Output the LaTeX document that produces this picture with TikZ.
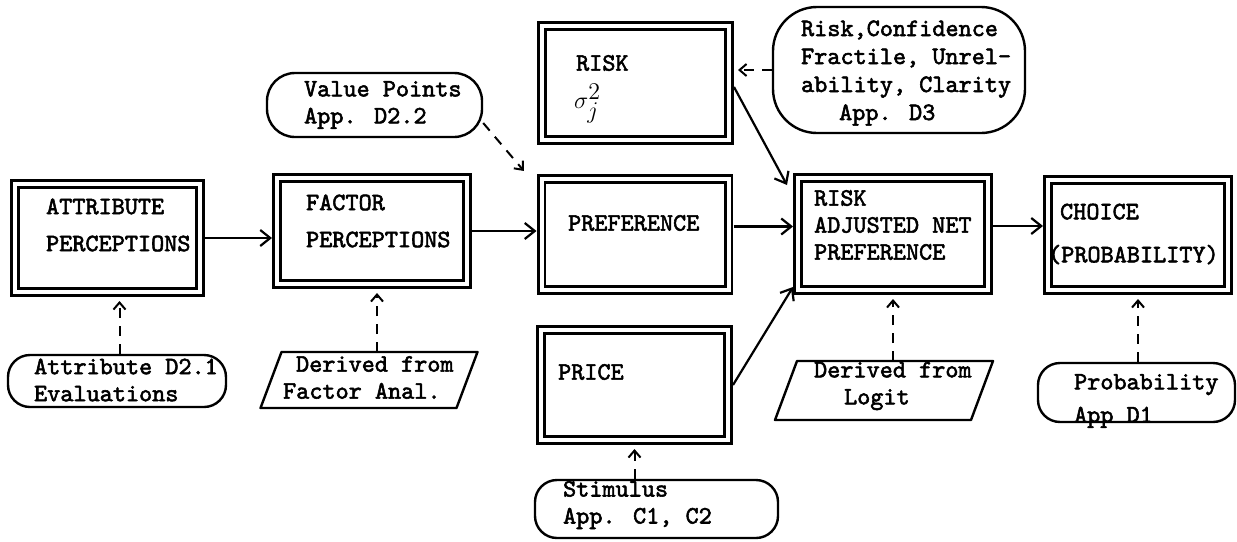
\documentclass[tikz,border=0pt]{standalone}
\usepackage{fontspec}
\newfontfamily\typer[FakeBold=2.2]{lmmono10-regular.otf}
\usetikzlibrary{arrows.meta,calc}

\begin{document}
\begin{tikzpicture}[x=0.5pt,y=-0.5pt,line width=1.1pt,
  >={Straight Barb[length=5pt,width=8pt]},
  stage/.style={draw,double,double distance=2pt,line width=1.3pt,inner sep=0pt,outer sep=2.5pt,minimum width=93.5pt,minimum height=55pt},
  source/.style={draw,rounded corners=11pt,line width=1.2pt,inner sep=0pt},
  derived/.style={inner sep=0pt,outer sep=0pt,minimum width=98pt,minimum height=28pt},
  frame/.style={line width=1.2pt,line join=round},
  txt/.style={font=\typer\fontsize{12.5pt}{13.5pt}\selectfont,align=left,inner sep=0pt,anchor=west},
  feed/.style={->,dash pattern=on 5pt off 4pt,line width=1pt,shorten >=2pt,>={Straight Barb[length=3.5pt,width=6pt]}}]
\useasboundingbox (0,0) rectangle (1237,541);

% model stages
\node[stage,minimum width=92.5pt,minimum height=54pt] (attr) at (107.5,238) {};
\node[stage,minimum width=95pt,minimum height=53pt] (factor) at (372,231) {};
\node[stage,minimum height=55.5pt] (pref) at (635,234.5) {};
\node[stage,minimum height=57pt] (risk) at (635.5,83) {};
\node[stage] (price) at (634.5,385) {};
\node[stage,minimum width=95pt,minimum height=56pt] (radj) at (893,234) {};
\node[stage,minimum width=90pt] (choice) at (1138,235) {};

\node[txt] (attr-t) at (45,225) {ATTRIBUTE\\[5pt]PERCEPTIONS};
\node[txt] (factor-t) at (305,221) {FACTOR\\[5pt]PERCEPTIONS};
\node[txt] (pref-t) at (567,223) {PREFERENCE};
\node[txt] (risk-t) at (575,63) {RISK};
\node[txt] (sigma-t) at (573,104) {$\sigma^{\textstyle 2}_{\textstyle j}$};
\node[txt] (price-t) at (557,372) {PRICE};
\node[txt] (radj-t) at (813,225) {RISK\\ADJUSTED NET\\PREFERENCE};
\node[txt] (choice-t) at (1047,234) {\hspace*{6pt}CHOICE\\[8pt](PROBABILITY)};

% data sources
\node[source,minimum width=109pt,minimum height=26pt] (attr-src) at (117,381) {};
\node[source,minimum width=107.5pt,minimum height=32pt,rounded corners=14pt] (value) at (374.5,105) {};
\node[source,minimum width=126pt,minimum height=63pt,rounded corners=22pt] (riskconf) at (899,70) {};
\node[source,minimum width=121.5pt,minimum height=29pt] (stimulus) at (656.5,509) {};
\node[source,minimum width=98.5pt,minimum height=29.5pt] (prob) at (1136.5,392.5) {};
\node[derived] (factor-src) at (369,380) {};
\node[derived,minimum height=29.5pt] (logit) at (884,390.5) {};
\draw[frame] ([xshift=-5.25pt]factor-src.south west) -- ([xshift=5.25pt]factor-src.north west)
  -- ([xshift=5.25pt]factor-src.north east) -- ([xshift=-5.25pt]factor-src.south east) -- cycle;
\draw[frame] ([xshift=-5.5pt]logit.south west) -- ([xshift=5.5pt]logit.north west)
  -- ([xshift=5.5pt]logit.north east) -- ([xshift=-5.5pt]logit.south east) -- cycle;

\node[txt] (attr-src-t) at (33,380) {Attribute D2.1\\Evaluations};
\node[txt] (value-t) at (303,105) {Value Points\\App. D2.2};
\node[txt,font=\typer\fontsize{12.5pt}{14pt}\selectfont] (riskconf-t) at (800,73) {Risk,Confidence\\Fractile, Unrel-\\ability, Clarity\\\hspace*{19pt}App. D3};
\node[txt] (stimulus-t) at (562,505) {Stimulus\\App. C1, C2};
\node[txt] (prob-t) at (1073,401) {Probability\\[3pt]App D1};
\node[txt] (factor-src-t) at (282,377.5) {\hspace*{6.5pt}Derived from\\Factor Anal.};
\node[txt] (logit-t) at (813,386) {Derived from\\\hspace*{15pt}Logit};

% flow
\draw[->] (attr.east) -- (attr.east -| factor.west);
\draw[->] (factor.east) -- (factor.east -| pref.west);
\draw[->] ([yshift=4pt]pref.east) -- ([yshift=4pt]pref.east -| radj.west);
\draw[->] ([yshift=4pt]radj.east) -- ([yshift=4pt]radj.east -| choice.west);
\draw[->] ([yshift=-2pt]risk.east) -- ([shift={(-3pt,-6pt)}]radj.north west);
\draw[->] (price.east) -- ([yshift=4pt]radj.south west);

% inputs
\draw[feed] (riskconf.west) -- (riskconf.west -| risk.east);
\draw[feed] ([yshift=-9pt]value.east) -- ([xshift=-5pt]pref.north west);
\draw[feed] ([xshift=6pt]attr.south |- attr-src.north) -- ([xshift=6pt]attr.south);
\draw[feed] ([xshift=2.5pt]factor.south |- factor-src.north) -- ([xshift=2.5pt]factor.south);
\draw[feed] (price.south |- stimulus.north) -- (price.south);
\draw[feed] (radj.south |- logit.north) -- (radj.south);
\draw[feed] (choice.south |- prob.north) -- (choice.south);
\end{tikzpicture}
\end{document}
